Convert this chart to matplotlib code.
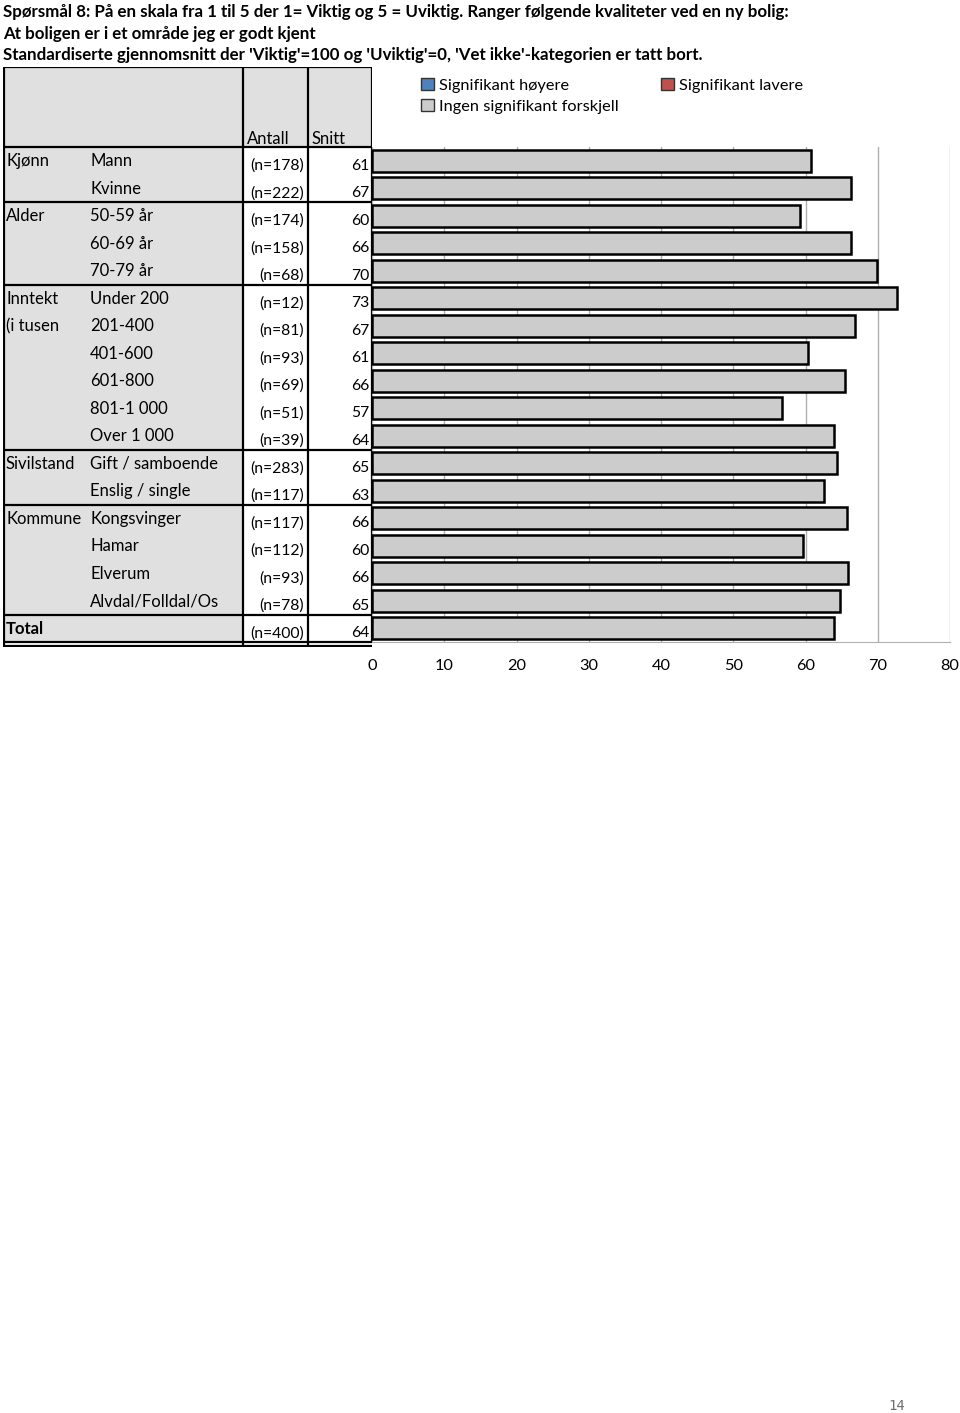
import matplotlib
matplotlib.use("Agg")
import matplotlib.pyplot as plt
from matplotlib.patches import Patch

plt.rcParams['font.family'] = ['Lato', 'DejaVu Sans']

# Data
title_lines = [
    "Spørsmål 8: På en skala fra 1 til 5 der 1= Viktig og 5 = Uviktig. Ranger følgende kvaliteter ved en ny bolig:",
    "At boligen er i et område jeg er godt kjent",
    "Standardiserte gjennomsnitt der 'Viktig'=100 og 'Uviktig'=0, 'Vet ikke'-kategorien er tatt bort.",
]
groups = ["Kjønn", "", "Alder", "", "", "Inntekt", "(i tusen", "", "", "", "",
          "Sivilstand", "", "Kommune", "", "", "", "Total"]
labels = ["Mann", "Kvinne", "50-59 år", "60-69 år", "70-79 år", "Under 200",
          "201-400", "401-600", "601-800", "801-1 000", "Over 1 000",
          "Gift / samboende", "Enslig / single", "Kongsvinger", "Hamar",
          "Elverum", "Alvdal/Folldal/Os", ""]
antall = [178, 222, 174, 158, 68, 12, 81, 93, 69, 51, 39, 283, 117, 117, 112, 93, 78, 400]
snitt = [61, 67, 60, 66, 70, 73, 67, 61, 66, 57, 64, 65, 63, 66, 60, 66, 65, 64]
values = [60.8, 66.3, 59.3, 66.3, 69.9, 72.7, 66.9, 60.4, 65.4, 56.7, 63.9,
          64.4, 62.6, 65.7, 59.7, 65.9, 64.8, 63.9]
group_breaks = [1.5, 4.5, 10.5, 12.5, 16.5]
xticks = [0, 10, 20, 30, 40, 50, 60, 70, 80]

W, H = 960, 1413
fig = plt.figure(figsize=(W / 100, H / 100), dpi=100)

# title
for i, t in enumerate(title_lines):
    fig.text(3 / W, 1 - (12 + 21.5 * i) / H, t, fontsize=12.2, fontweight='bold',
             va='center', ha='left')

row_h = 27.5
n = len(values)
top = 147
header_top = 67
bottom_px = top + n * row_h

# bar panel
ax = fig.add_axes([372 / W, 1 - bottom_px / H, 578 / W, n * row_h / H])
ax.barh(range(n), values, height=0.8, color='#cccccc', edgecolor='black', linewidth=1.8, zorder=3)
ax.set_ylim(n - 0.5, -0.5)
ax.set_xlim(0, 80)
ax.set_xticks(xticks)
ax.set_yticks([])
ax.grid(axis='x', color='#b0b0b0', linewidth=1)
for s in ['top', 'right', 'left']:
    ax.spines[s].set_visible(False)
ax.spines['bottom'].set_color('#b0b0b0')
ax.tick_params(axis='x', length=0, pad=12, labelsize=11.8)
ax.patch.set_alpha(0)

# table panel
tab_bottom_px = bottom_px + 5
ax_t = fig.add_axes([3 / W, 1 - tab_bottom_px / H, 369 / W, (tab_bottom_px - header_top) / H])
ax_t.set_xlim(0, 369)
y_top = -0.5 - (top - header_top) / row_h
y_bot = n - 0.5 + (tab_bottom_px - bottom_px) / row_h
ax_t.set_ylim(y_bot, y_top)
ax_t.axis('off')

c_ant, c_sn, c_end = 240, 305, 369
# backgrounds
ax_t.fill_between([0, c_end], y_top, -0.5, color='#e0e0e0', lw=0)
ax_t.fill_between([0, c_ant], -0.5, n - 0.5, color='#e0e0e0', lw=0)
ax_t.text(c_ant + 4, -0.8, "Antall", fontsize=12, va='center')
ax_t.text(c_sn + 3, -0.8, "Snitt", fontsize=12, va='center')

for i in range(n):
    bold = groups[i] == "Total"
    ax_t.text(3, i + 0.02, groups[i], fontsize=12, va='center',
              fontweight='bold' if bold else 'normal')
    ax_t.text(87, i + 0.02, labels[i], fontsize=12, va='center')
    ax_t.text(c_sn - 4, i + 0.18, f"(n={antall[i]})", fontsize=11.3, va='center', ha='right')
    ax_t.text(c_end - 3, i + 0.18, str(snitt[i]), fontsize=11.3, va='center', ha='right')

lk = dict(color='black', lw=1.6, solid_capstyle='butt')
ax_t.plot([0, c_end], [y_top, y_top], **lk)
ax_t.plot([0, c_end], [-0.5, -0.5], **lk)
for b in group_breaks:
    ax_t.plot([0, c_end], [b, b], **lk)
ax_t.plot([0, c_end], [n - 0.5, n - 0.5], **lk)
ax_t.plot([0, c_end], [y_bot - 0.03, y_bot - 0.03], **lk)
for xv in [0.8, c_ant, c_sn]:
    ax_t.plot([xv, xv], [y_top, y_bot - 0.03], **lk)
ax_t.plot([c_end, c_end], [y_top, n - 0.5], **lk)

# legend
handles = [Patch(facecolor='#4f81bd', edgecolor='#333333', label='Signifikant høyere'),
           Patch(facecolor='#cccccc', edgecolor='#333333', label='Ingen signifikant forskjell'),
           Patch(facecolor='#c0504d', edgecolor='#333333', label='Signifikant lavere')]
fig.legend(handles=handles, ncol=2, loc='upper left', bbox_to_anchor=(414 / W, 1 - 71 / H),
           frameon=False, fontsize=11.8, handlelength=0.8, handleheight=0.8,
           handletextpad=0.3, columnspacing=2.6, labelspacing=0.38, borderaxespad=0)

fig.text(897 / W, 1 - 1406 / H, "14", fontsize=10, color='#707070', ha='center', va='center',
         family='DejaVu Sans Mono')

fig.savefig("out.png", dpi=100)
